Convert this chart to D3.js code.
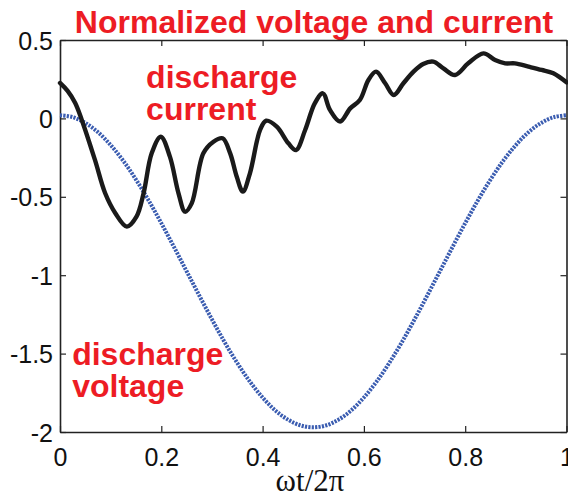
<!DOCTYPE html>
<html>
<head>
<meta charset="utf-8">
<script src="https://cdn.jsdelivr.net/npm/d3@7"></script>
<style>
  html, body { margin: 0; padding: 0; background: #fff; }
  svg { display: block; }
</style>
</head>
<body>
<svg id="chart" width="568" height="494"></svg>
<script>
// ---- data ----
const titleText = "Normalized voltage and current";
const xLabelText = "ωt/2π";
const xTicks = [0, 0.2, 0.4, 0.6, 0.8, 1];
const xTickLabels = ["0", "0.2", "0.4", "0.6", "0.8", "1"];
const yTicks = [0.5, 0, -0.5, -1, -1.5, -2];
const yTickLabels = ["0.5", "0", "-0.5", "-1", "-1.5", "-2"];

// discharge current (black)
const currentX = [0.000, 0.015, 0.030, 0.043, 0.069, 0.089, 0.109, 0.132, 0.151, 0.165, 0.181, 0.199, 0.217, 0.234, 0.247,
  0.260, 0.283, 0.303, 0.321, 0.336, 0.349, 0.361, 0.375, 0.395, 0.407, 0.428, 0.451, 0.466, 0.484, 0.503,
  0.519, 0.533, 0.553, 0.573, 0.592, 0.609, 0.624, 0.642, 0.659, 0.678, 0.698, 0.717, 0.737, 0.757, 0.780,
  0.806, 0.836, 0.859, 0.879, 0.898, 0.925, 0.951, 0.974, 1.000];
const currentY = [0.226, 0.175, 0.098, -0.010, -0.265, -0.476, -0.603, -0.690, -0.627, -0.478, -0.223, -0.117, -0.244, -0.478, -0.595,
  -0.542, -0.223, -0.149, -0.127, -0.223, -0.372, -0.467, -0.350, -0.074, -0.015, -0.053, -0.159, -0.202, -0.074, 0.096,
  0.160, 0.054, -0.020, 0.064, 0.117, 0.245, 0.298, 0.224, 0.149, 0.224, 0.298, 0.347, 0.362, 0.319, 0.277,
  0.351, 0.415, 0.372, 0.351, 0.351, 0.330, 0.309, 0.288, 0.230];

// discharge voltage (blue dotted)
const voltageX = [0, 0.025, 0.05, 0.075, 0.1, 0.125, 0.15, 0.175, 0.2, 0.225, 0.25, 0.275, 0.3, 0.325, 0.35, 0.375, 0.4, 0.425, 0.45, 0.475, 0.5,
  0.525, 0.55, 0.575, 0.6, 0.625, 0.65, 0.675, 0.7, 0.725, 0.75, 0.775, 0.8, 0.825, 0.85, 0.875, 0.9, 0.925, 0.95, 0.975, 1];
const voltageY = [0.020, 0.008, -0.029, -0.088, -0.170, -0.271, -0.390, -0.523, -0.668, -0.820, -0.975, -1.130, -1.282, -1.427, -1.560, -1.679, -1.780, -1.862, -1.921, -1.958, -1.970,
  -1.958, -1.921, -1.862, -1.780, -1.679, -1.560, -1.427, -1.282, -1.130, -0.975, -0.820, -0.668, -0.523, -0.390, -0.271, -0.170, -0.088, -0.029, 0.008, 0.020];

const annotations = [
  { lines: ["discharge", "current"], x: 0.17, y: 0.192 },
  { lines: ["discharge", "voltage"], x: 0.024, y: -1.57 }
];

// ---- layout ----
const svg = d3.select("#chart");
const mLeft = 60, mRight = 566.5, mTop = 40, mBottom = 432;
const x = d3.scaleLinear().domain([0, 1]).range([mLeft, mRight]);
const y = d3.scaleLinear().domain([-2, 0.5]).range([mBottom, mTop]);
const red = "#ed1c24";
const sans = "'Liberation Sans', Arial, Helvetica, sans-serif";

// title
svg.append("text")
  .attr("x", 314).attr("y", 33)
  .attr("text-anchor", "middle")
  .attr("font-family", sans).attr("font-weight", "bold").attr("font-size", 32)
  .attr("fill", red)
  .text(titleText);

// axes
const tickLen = 6;
const gB = svg.append("g").attr("transform", `translate(0,${mBottom})`)
  .call(d3.axisBottom(x).tickValues(xTicks).tickSizeInner(-tickLen).tickSizeOuter(0)
    .tickFormat((d, i) => xTickLabels[i]));
gB.selectAll("text").attr("y", 33.5).attr("dy", 0);

const gT = svg.append("g").attr("transform", `translate(0,${mTop})`)
  .call(d3.axisTop(x).tickValues(xTicks).tickSizeInner(-tickLen).tickSizeOuter(0).tickFormat(""));

const gL = svg.append("g").attr("transform", `translate(${mLeft},0)`)
  .call(d3.axisLeft(y).tickValues(yTicks).tickSizeInner(-tickLen).tickSizeOuter(0)
    .tickFormat((d, i) => yTickLabels[i]));
gL.selectAll("text").attr("x", -7).attr("dy", "0.36em");

const gR = svg.append("g").attr("transform", `translate(${mRight},0)`)
  .call(d3.axisRight(y).tickValues(yTicks).tickSizeInner(-tickLen).tickSizeOuter(0).tickFormat(""));

[gB, gT, gL, gR].forEach(g => {
  g.select(".domain").attr("stroke", "#222").attr("stroke-width", 1.6);
  g.selectAll(".tick line").attr("stroke", "#222").attr("stroke-width", 1.2);
  g.selectAll("text").attr("font-family", sans).attr("font-size", 25).attr("fill", "#111");
});

// x label
svg.append("text")
  .attr("x", 310).attr("y", 491)
  .attr("text-anchor", "middle")
  .attr("font-family", "'Liberation Serif', 'Times New Roman', serif").attr("font-size", 31)
  .attr("fill", "#111")
  .text(xLabelText);

// lines
const line = d3.line().x(d => x(d[0])).y(d => y(d[1])).curve(d3.curveCatmullRom.alpha(0.5));

svg.append("path")
  .datum(voltageX.map((v, i) => [v, voltageY[i]]))
  .attr("d", line)
  .attr("fill", "none")
  .attr("stroke", "#3a5cb0")
  .attr("stroke-width", 4)
  .attr("stroke-dasharray", "2.2,1.2");

svg.append("path")
  .datum(currentX.map((v, i) => [v, currentY[i]]))
  .attr("d", line)
  .attr("fill", "none")
  .attr("stroke", "#1a1a1a")
  .attr("stroke-width", 4.4)
  .attr("stroke-linejoin", "round")
  .attr("stroke-linecap", "round");

// annotations
annotations.forEach(a => {
  const t = svg.append("text")
    .attr("font-family", sans).attr("font-weight", "bold").attr("font-size", 32)
    .attr("fill", red);
  a.lines.forEach((l, i) => {
    t.append("tspan").attr("x", x(a.x)).attr("y", y(a.y) + i * 32).text(l);
  });
});
</script>
</body>
</html>
